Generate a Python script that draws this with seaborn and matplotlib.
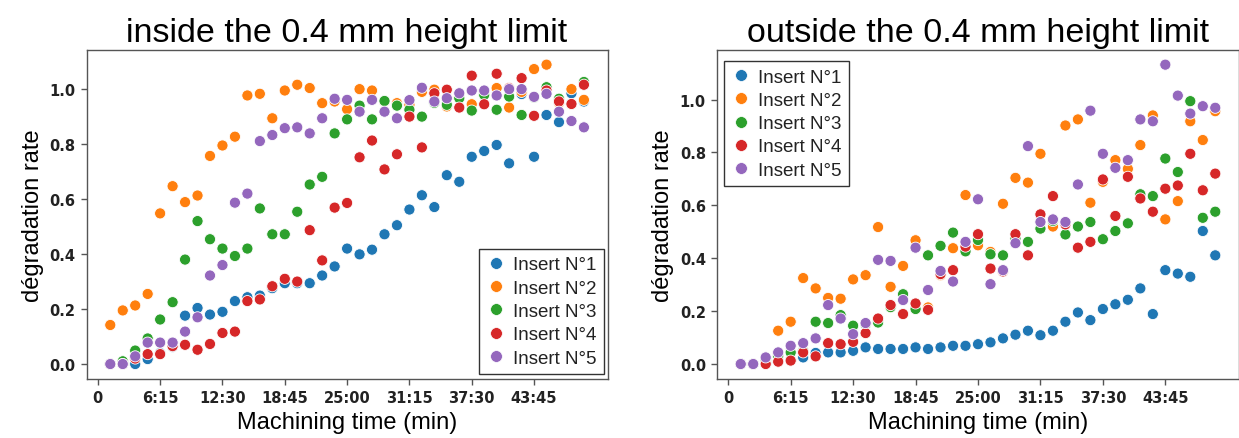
import matplotlib
matplotlib.use("Agg")
import matplotlib.pyplot as plt
import pandas as pd
import seaborn as sns

# Measurement index: one step = 1 min 15 s of machining
step = list(range(1, 40))
tick_pos = [0, 5, 10, 15, 20, 25, 30, 35]
tick_labels = ["0", "6:15", "12:30", "18:45", "25:00", "31:15", "37:30", "43:45"]
inserts = ["Insert N°1", "Insert N°2", "Insert N°3", "Insert N°4", "Insert N°5"]

# Degradation rate inside the 0.4 mm height limit
in_n1 = [0.0, 0.0, 0.0, 0.018, 0.04, 0.063, 0.176, 0.204, 0.18, 0.19,
         0.229, 0.243, 0.249, 0.276, 0.294, 0.294, 0.294, 0.322, 0.355, 0.42,
         0.399, 0.416, 0.472, 0.505, 0.562, 0.614, 0.571, 0.687, 0.663, 0.754,
         0.775, 0.797, 0.73, 0.982, 0.754, 0.906, 0.88, 0.985, 0.955]
in_n2 = [0.142, 0.195, 0.213, 0.255, 0.548, 0.647, 0.589, 0.613, 0.757, 0.795,
         0.827, 0.977, 0.983, 0.894, 0.995, 1.016, 1.004, 0.949, 0.955, 0.927,
         1.0, 0.995, 0.955, 0.949, 0.943, 0.99, 0.998, 0.937, 0.97, 0.945,
         0.99, 1.004, 0.933, 0.99, 1.073, 1.089, 0.95, 1.0, 0.961]
in_n3 = [0.0, 0.01, 0.049, 0.093, 0.162, 0.225, 0.38, 0.52, 0.454, 0.42,
         0.393, 0.42, 0.566, 0.472, 0.472, 0.554, 0.653, 0.681, 0.839, 0.89,
         0.94, 0.89, 0.957, 0.94, 0.925, 0.9, 0.95, 0.943, 0.967, 0.922,
         0.979, 0.925, 0.973, 0.906, 0.97, 1.007, 0.965, 0.946, 1.026]
in_n4 = [0.0, 0.0, 0.02, 0.036, 0.036, 0.065, 0.07, 0.052, 0.073, 0.113,
         0.118, 0.229, 0.235, 0.283, 0.31, 0.3, 0.487, 0.377, 0.569, 0.586,
         0.752, 0.813, 0.708, 0.763, 0.9, 0.788, 0.985, 0.998, 0.933, 1.049,
         0.945, 1.056, 1.004, 1.04, 0.903, 0.995, 0.955, 0.946, 1.016]
in_n5 = [0.0, 0.0, 0.028, 0.078, 0.078, 0.078, 0.118, 0.17, 0.322, 0.36,
         0.587, 0.62, 0.811, 0.833, 0.858, 0.861, 0.839, 0.894, 0.965, 0.961,
         0.918, 0.961, 0.918, 0.894, 0.96, 1.005, 0.955, 0.967, 0.985, 0.995,
         0.995, 0.977, 1.0, 1.0, 0.972, 0.983, 0.918, 0.884, 0.861]

# Degradation rate outside the 0.4 mm height limit
out_n1 = [0.0, 0.0, 0.005, 0.01, 0.015, 0.025, 0.042, 0.044, 0.044, 0.05,
          0.063, 0.057, 0.057, 0.057, 0.063, 0.057, 0.063, 0.069, 0.069, 0.075,
          0.082, 0.097, 0.111, 0.126, 0.109, 0.126, 0.16, 0.195, 0.166, 0.208,
          0.226, 0.243, 0.286, 0.189, 0.355, 0.342, 0.33, 0.503, 0.411]
out_n2 = [0.0, 0.0, 0.02, 0.126, 0.16, 0.325, 0.286, 0.25, 0.247, 0.32,
          0.336, 0.518, 0.292, 0.371, 0.468, 0.214, 0.336, 0.438, 0.639, 0.449,
          0.424, 0.606, 0.704, 0.686, 0.795, 0.52, 0.902, 0.925, 0.61, 0.689,
          0.771, 0.738, 0.828, 0.94, 0.547, 0.616, 0.918, 0.847, 0.956]
out_n3 = [0.0, 0.0, 0.015, 0.03, 0.044, 0.05, 0.16, 0.155, 0.185, 0.145,
          0.15, 0.157, 0.215, 0.264, 0.208, 0.411, 0.447, 0.497, 0.426, 0.469,
          0.415, 0.411, 0.475, 0.462, 0.512, 0.541, 0.49, 0.52, 0.537, 0.472,
          0.503, 0.532, 0.642, 0.635, 0.777, 0.726, 0.994, 0.553, 0.576]
out_n4 = [0.0, 0.0, 0.0, 0.009, 0.013, 0.044, 0.029, 0.079, 0.075, 0.084,
          0.117, 0.172, 0.223, 0.189, 0.229, 0.205, 0.34, 0.355, 0.444, 0.491,
          0.361, 0.35, 0.491, 0.411, 0.566, 0.635, 0.528, 0.44, 0.462, 0.698,
          0.56, 0.708, 0.626, 0.576, 0.663, 0.675, 0.795, 0.657, 0.72]
out_n5 = [0.0, 0.0, 0.025, 0.044, 0.069, 0.079, 0.097, 0.223, 0.172, 0.113,
          0.155, 0.394, 0.39, 0.242, 0.44, 0.28, 0.352, 0.312, 0.462, 0.623,
          0.302, 0.355, 0.457, 0.824, 0.537, 0.547, 0.537, 0.679, 0.958, 0.795,
          0.742, 0.771, 0.925, 0.918, 1.132, 1.015, 0.947, 0.975, 0.969]


def long_table(series):
    frames = [pd.DataFrame({"step": step, "rate": vals, "insert": name})
              for name, vals in zip(inserts, series)]
    return pd.concat(frames, ignore_index=True)


df_in = long_table([in_n1, in_n2, in_n3, in_n4, in_n5])
df_out = long_table([out_n1, out_n2, out_n3, out_n4, out_n5])

sns.set_style("ticks")
plt.rcParams["font.family"] = ["Liberation Sans", "DejaVu Sans"]

W, H = 1239, 439
fig = plt.figure(figsize=(W / 100, H / 100), dpi=100)
ax_in = fig.add_axes([86.6 / W, 59 / H, 521 / W, 329.3 / H])
ax_out = fig.add_axes([717 / W, 59 / H, 522 / W, 329.3 / H])

palette = sns.color_palette("tab10", 5)

panels = [
    (ax_in, df_in, "inside the 0.4 mm height limit", "lower right", (0.993, 0.015)),
    (ax_out, df_out, "outside the 0.4 mm height limit", "upper left", (0.0134, 0.966)),
]

for ax, df, title, loc, anchor in panels:
    sns.scatterplot(data=df, x="step", y="rate", hue="insert", hue_order=inserts,
                    palette=palette, s=64, edgecolor="white", linewidth=0.6, ax=ax)
    ax.set_title(title, fontsize=24.5, color="black")
    ax.set_xlabel("Machining time (min)", fontsize=17, color="black")
    ax.set_ylabel("dégradation rate", fontsize=17, color="black")
    ax.set_xticks(tick_pos)
    ax.set_xticklabels(tick_labels)
    for lab in ax.get_xticklabels() + ax.get_yticklabels():
        lab.set_fontfamily("DejaVu Sans")
        lab.set_fontweight("bold")
        lab.set_fontsize(10.5)
        lab.set_color("#222222")
    ax.tick_params(length=4.5, width=1, color="#555555")
    for sp in ax.spines.values():
        sp.set_color("#555555")
        sp.set_linewidth(1.0)
    sns.move_legend(ax, loc, bbox_to_anchor=anchor, borderaxespad=0, title=None,
                    frameon=True, fancybox=False, framealpha=1, fontsize=13.5,
                    handlelength=1.0, handletextpad=0.4, labelspacing=0.33,
                    borderpad=0.4)
    leg = ax.get_legend()
    leg.get_frame().set_edgecolor("#333333")
    leg.get_frame().set_linewidth(1.0)
    for h in leg.legend_handles:
        h.set_markersize(8.5)
        h.set_markeredgecolor("white")
        h.set_markeredgewidth(0.5)
    for t in leg.get_texts():
        t.set_color("#222222")

fig.savefig("out.png", dpi=100)
